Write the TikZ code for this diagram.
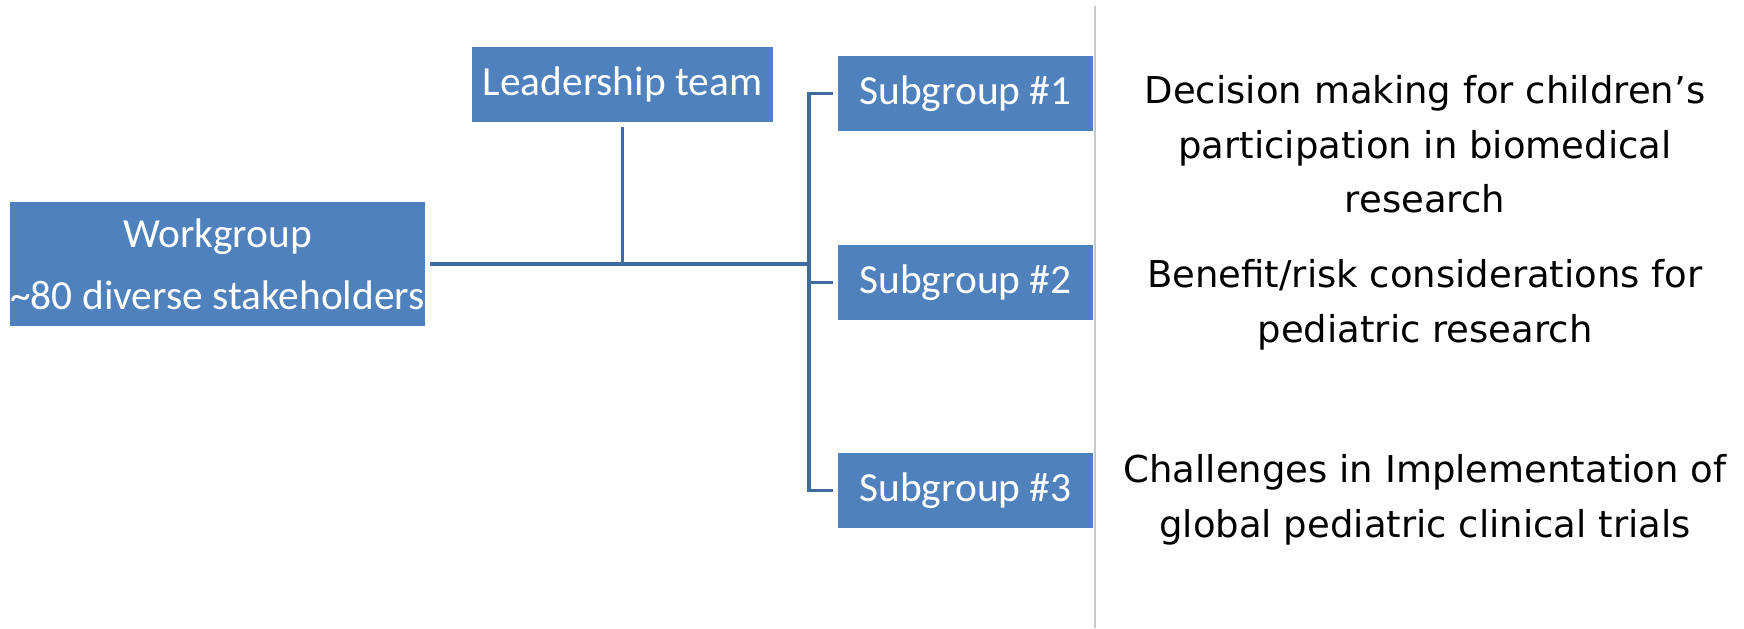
\documentclass[tikz,border=0pt]{standalone}
\usepackage{fontspec}
\usepackage{tikz}
\usetikzlibrary{positioning}
\newfontfamily\boxfont{Carlito}
\newfontfamily\notefont{DejaVu Sans}
\definecolor{boxblue}{HTML}{4F81BD}
\definecolor{lineblue}{HTML}{3F6C9E}
\definecolor{rulegray}{HTML}{C8C8C8}

\begin{document}
\begin{tikzpicture}[x=0.5pt,y=-0.5pt,auto]
	\tikzstyle{group}=[rectangle,fill=boxblue,text=white,inner sep=0pt,outer sep=2.5pt,
		font=\boxfont\fontsize{20.7}{31}\selectfont,align=center]
	\tikzstyle{sub}=[group,minimum width=127.5pt,minimum height=37.5pt]
	\tikzstyle{note}=[anchor=north,inner sep=0pt,align=center,
		font=\notefont\fontsize{18.5}{27.25}\selectfont]
	\tikzstyle{link}=[draw=lineblue,line width=1.8pt]
	
	\useasboundingbox (0,0) rectangle (1744,628);
	
	\node[group,minimum width=206.5pt,minimum height=62pt] (W) at (217.5,264) {Workgroup\\\textasciitilde80 diverse stakeholders};
	\node[group,minimum width=150.5pt,minimum height=37.5pt] (L) at (622.5,84.5) {Leadership team};
	\node[sub]                  (S1) at (965.5,93.5)  {Subgroup \#1};
	\node[sub]                  (S2) at (965.5,282.5) {Subgroup \#2};
	\node[sub]                  (S3) at (965.5,490.5) {Subgroup \#3};
	
	\node[note] (N1) at (1425,75)  {Decision making for children’s\\participation in biomedical\\research};
	\node[note] (N2) at (1425,259) {Benefit/risk considerations for\\pediatric research};
	\node[note] (N3) at (1425,454) {Challenges in Implementation of\\global pediatric clinical trials};
	
	\coordinate (B) at (809,264);
	\coordinate (R1) at (1095,6);
	\coordinate (R2) at (1095,628);
	
	\draw[rulegray,line width=1pt] (R1) -- (R2);
	
	\path[link]
	(W.east) edge (B)
	(L.south) edge (L.south |- W.east)
	(S2.west) edge (S2.west -| B);
	\draw[link] (S1.west) -| (B) |- (S3.west);
	
\end{tikzpicture}
\end{document}
